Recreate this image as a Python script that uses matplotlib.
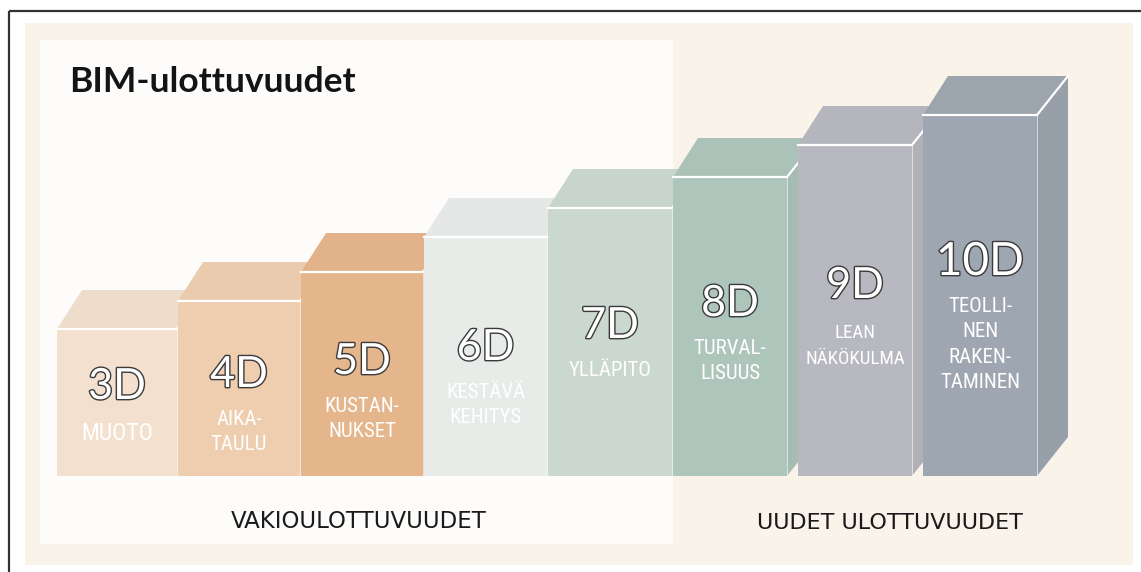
import matplotlib
matplotlib.use("Agg")
import matplotlib.pyplot as plt
import matplotlib.patheffects as pe
from matplotlib.patches import Polygon, Rectangle
from matplotlib.colors import to_rgb
from matplotlib import font_manager

# ---------------- data ----------------
labels = ['3D', '4D', '5D', '6D', '7D', '8D', '9D', '10D']
sublabels = ['MUOTO', 'AIKA-\nTAULU', 'KUSTAN-\nNUKSET', 'KESTÄVÄ\nKEHITYS',
             'YLLÄPITO', 'TURVAL-\nLISUUS', 'LEAN\nNÄKÖKULMA',
             'TEOLLI-\nNEN\nRAKEN-\nTAMINEN']
heights = [147, 175, 204, 239, 268, 299, 331, 361]
colors = ['#F3E0CE', '#EFCEB0', '#E5B58C', '#E8ECE9',
          '#CAD8CF', '#AEC5BB', '#B8B9C0', '#9EA6B1']
title = 'BIM-ulottuvuudet'
group_labels = ['VAKIOULOTTUVUUDET', 'UUDET ULOTTUVUUDET']

# ---------------- layout (style) ----------------
W, H = 1141, 572
base = 476
lefts = [57, 178, 301, 424, 548, 673, 798, 923]
widths = [120, 122, 122, 123, 124, 114, 114, 114]
dx, dy = 31, 39
num_y = [387, 375, 362, 348, 326, 304, 286, 262]

names = {f.name for f in font_manager.fontManager.ttflist}
narrow = None
for cand in ['Roboto Condensed', 'Liberation Sans Narrow', 'Open Sans Condensed',
             'DejaVu Sans Condensed', 'Liberation Sans']:
    if cand in names:
        narrow = cand
        break
narrow_stretch = 'condensed' if narrow == 'DejaVu Sans Condensed' else 'normal'

fig = plt.figure(figsize=(W / 100, H / 100), dpi=100)
fig.patch.set_facecolor('white')
ax = fig.add_axes([0, 0, 1, 1])
ax.set_xlim(0, W)
ax.set_ylim(H, 0)
ax.axis('off')
renderer = fig.canvas.get_renderer()

# backgrounds
ax.add_patch(Rectangle((25, 23), 1108, 542, facecolor='#FAF3EA', edgecolor='none', zorder=0))
ax.add_patch(Rectangle((40, 40), 633, 504, facecolor='#FEFCFA', edgecolor='none', zorder=0.5))
# frame lines
ax.plot([8.5, W], [11, 11], color='#333333', lw=1.6, zorder=10, solid_capstyle='butt')
ax.plot([8.5, 8.5], [11, H], color='#333333', lw=1.6, zorder=10, solid_capstyle='butt')


def shade(c, f):
    r, g, b = to_rgb(c)
    return (r * f, g * f, b * f)


for i, (lab, sub, h, c) in enumerate(zip(labels, sublabels, heights, colors)):
    x0 = lefts[i]
    x1 = x0 + widths[i]
    top = base - h
    z = 2 + i
    # side face
    ax.add_patch(Polygon([(x1, base), (x1, top), (x1 + dx, top - dy), (x1 + dx, base - dy)],
                         closed=True, facecolor=shade(c, 0.955), edgecolor='none', zorder=z))
    # top face
    ax.add_patch(Polygon([(x0, top), (x1, top), (x1 + dx, top - dy), (x0 + dx - 6, top - dy)],
                         closed=True, facecolor=shade(c, 0.985), edgecolor='none', zorder=z))
    # front face
    ax.add_patch(Rectangle((x0, top), widths[i], h, facecolor=c, edgecolor='none', zorder=z))
    # white highlight edges
    ax.plot([x0, x1, x1 + dx], [top, top, top - dy], color='white', lw=1.6, zorder=z + 0.1,
            solid_joinstyle='miter')
    ax.plot([x1, x1], [top, base], color='white', lw=0.7, alpha=0.6, zorder=z + 0.1)

    cx = x0 + widths[i] / 2
    fs_num = 31 if lab != '10D' else 33
    ax.text(cx, num_y[i], lab, ha='center', va='center', fontsize=fs_num,
            family=['Lato', 'DejaVu Sans'], color='white', zorder=20,
            path_effects=[pe.withStroke(linewidth=2.0, foreground='#3a3a3a')])
    fs_sub = 17 if i == 0 else 15
    t = ax.text(cx, num_y[i] + 35, sub, ha='center', va='top', fontsize=fs_sub,
                family=[narrow, 'DejaVu Sans'], fontstretch=narrow_stretch, color='white',
                linespacing=1.42, zorder=20)
    wpx = t.get_window_extent(renderer).width
    if wpx > 100:
        new_fs = fs_sub * 100 / wpx
        t.set_fontsize(new_fs)
        t.set_linespacing(1.42 * fs_sub / new_fs)
        t.set_y(num_y[i] + 38)

# title
ax.text(69, 82, title, ha='left', va='center', fontsize=25.5, fontweight='bold',
        family=['Lato', 'DejaVu Sans'], color='#141414', zorder=20)

# group labels
ax.text(359, 522, group_labels[0], ha='center', va='center', fontsize=16.5,
        family=['DejaVu Sans'], color='#1a1a1a', zorder=20)
ax.text(890, 523, group_labels[1], ha='center', va='center', fontsize=16,
        family=['DejaVu Sans'], color='#1a1a1a', zorder=20)

fig.savefig('out.png', dpi=100, facecolor='white')
